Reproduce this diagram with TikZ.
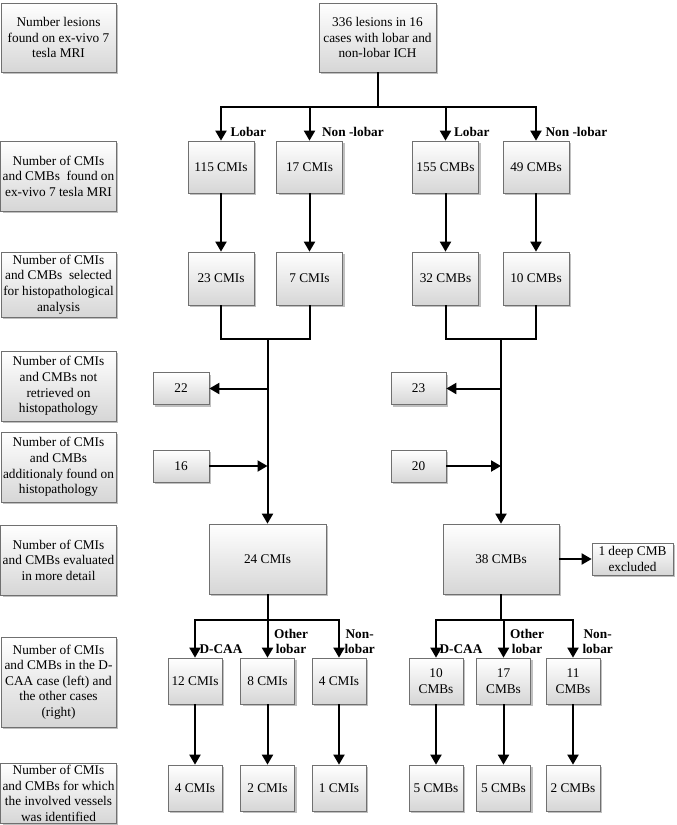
\documentclass[tikz,border=0pt]{standalone}
\usepackage{fontspec}
\setmainfont{Liberation Serif}
\usepackage{tikz}
\usetikzlibrary{arrows.meta,positioning,calc,shadows}
\definecolor{BoxEdge}{RGB}{112,112,112}
\definecolor{BoxShade}{RGB}{214,214,214}
\definecolor{ShadowGray}{RGB}{150,150,150}
\tikzset{
  cbox/.style ={rectangle, draw=BoxEdge, line width=.7pt, top color=white,
                bottom color=BoxShade, align=center, inner sep=2pt,
                drop shadow={shadow xshift=2pt, shadow yshift=-2pt, fill=ShadowGray, opacity=.6}},
  lbox/.style ={cbox, minimum width=115pt},
  arr/.style  ={-{Triangle[length=10pt,width=11pt]}, line width=2pt},
  conn/.style ={line width=2pt},
  tag/.style  ={font=\fontsize{13.3}{15.6}\selectfont\bfseries, align=center},
}
\begin{document}
\begin{tikzpicture}[x=1pt,y=-1pt,font=\fontsize{13.3}{15.6}\selectfont]
  \useasboundingbox (0,0) rectangle (677,825);

  \node[lbox,minimum height=69pt] at (58.5,37.5) (d1) {Number lesions\\found on ex-vivo 7\\tesla MRI};
  \node[lbox,minimum height=70pt] at (58.5,176) (d2) {Number of CMIs\\and CMBs\ \ found on\\ex-vivo 7 tesla MRI};
  \node[lbox,minimum height=65pt] at (58.5,284.5) (d3) {Number of CMIs\\and CMBs\ \ selected\\for histopathological\\analysis};
  \node[lbox,minimum height=70pt] at (58.5,386) (d4) {Number of CMIs\\and CMBs not\\retrieved on\\histopathology};
  \node[lbox,minimum height=70pt] at (58.5,467) (d5) {Number of CMIs\\and CMBs\\additionaly found on\\histopathology};
  \node[lbox,minimum height=70pt] at (58.5,560) (d6) {Number of CMIs\\and CMBs evaluated\\in more detail};
  \node[lbox,minimum height=90pt] at (58.5,682) (d7) {Number of CMIs\\and CMBs in the D-\\CAA case (left) and\\the other cases\\(right)};
  \node[lbox,minimum height=57pt] at (58.5,793.5) (d8) {Number of CMIs\\and CMBs for which\\the involved vessels\\was identified};

  \node[cbox,minimum width=117pt,minimum height=69pt] at (377.5,37.5) (all)
    {336 lesions in 16\\cases with lobar and\\non-lobar ICH};
  \coordinate (split) at (377.5,107);
  \draw[conn] (all.south) -- (split);

  \foreach \n/\x/\t in {cmi1/221/115 CMIs,cmi2/309.5/17 CMIs,cmb1/445.5/155 CMBs,cmb2/536/49 CMBs}{
    \node[cbox,minimum width=66pt,minimum height=52pt] (\n) at (\x,167) {\t};
    \draw[arr] (split) -| (\n.north);
  }
  \node[tag,above right=0pt and 6pt of cmi1.north] (t1) {Lobar};
  \node[tag,above right=0pt and 9pt of cmi2.north] (t2) {Non -lobar};
  \node[tag,above right=0pt and 5pt of cmb1.north] (t3) {Lobar};
  \node[tag,above right=0pt and 6pt of cmb2.north] (t4) {Non -lobar};

  \foreach \n/\x/\t in {scmi1/221/23 CMIs,scmi2/309.5/7 CMIs,scmb1/445.5/32 CMBs,scmb2/536/10 CMBs}{
    \node[cbox,minimum width=66pt,minimum height=53pt] (\n) at (\x,278.5) {\t};
  }
  \foreach \a/\b in {cmi1/scmi1,cmi2/scmi2,cmb1/scmb1,cmb2/scmb2}{\draw[arr] (\a.south) -- (\b.north);}

  \node[cbox,minimum width=117pt,minimum height=70pt] at (267.5,559) (ev1) {24 CMIs};
  \node[cbox,minimum width=116pt,minimum height=70pt] at (501,559) (ev2) {38 CMBs};
  \node[cbox,minimum width=81pt,minimum height=32pt] at (632.5,559) (excl) {1 deep CMB\\excluded};

  \node[cbox,minimum width=56pt,minimum height=32pt] at (181,388.5) (n22) {22};
  \node[cbox,minimum width=56pt,minimum height=32pt] at (181,466) (n16) {16};
  \node[cbox,minimum width=55pt,minimum height=32pt] at (418.5,388.5) (n23) {23};
  \node[cbox,minimum width=55pt,minimum height=32pt] at (418.5,466) (n20) {20};

  \coordinate (ml) at (267.5,339);
  \coordinate (mr) at (501,339);
  \draw[conn] (scmi1.south) |- (ml);
  \draw[conn] (scmi2.south) |- (ml);
  \draw[conn] (scmb1.south) |- (mr);
  \draw[conn] (scmb2.south) |- (mr);
  \draw[arr] (ml) -- (ev1.north);
  \draw[arr] (mr) -- (ev2.north);
  \draw[arr] (ml |- n22.east) -- (n22.east);
  \draw[arr] (mr |- n23.east) -- (n23.east);
  \draw[arr] (n16.east) -- (ml |- n16.east);
  \draw[arr] (n20.east) -- (mr |- n20.east);
  \draw[arr] (ev2.east) -- (excl.west);

  \foreach \n/\x/\t in {dcmi/195/12 CMIs,ocmi/267.5/8 CMIs,ncmi/339/4 CMIs,dcmb/436/10\\CMBs,ocmb/503.5/17\\CMBs,ncmb/573/11\\CMBs}{
    \node[cbox,minimum width=54pt,minimum height=46pt] (\n) at (\x,681) {\t};
  }
  \foreach \n/\x/\t in {vdcmi/195/4 CMIs,vocmi/267.5/2 CMIs,vncmi/339/1 CMIs,vdcmb/436/5 CMBs,vocmb/503.5/5 CMBs,vncmb/573/2 CMBs}{
    \node[cbox,minimum width=54pt,minimum height=46pt] (\n) at (\x,788) {\t};
  }

  \coordinate (sl) at (267.5,620);
  \coordinate (sr) at (501,620);
  \draw[conn] (ev1.south) -- (sl);
  \draw[conn] (ev2.south) -- (sr);
  \foreach \n in {dcmi,ocmi,ncmi}{\draw[arr] (sl) -| (\n.north);}
  \foreach \n in {dcmb,ocmb,ncmb}{\draw[arr] (sr) -| (\n.north);}
  \foreach \n in {dcmi,ocmi,ncmi,dcmb,ocmb,ncmb}{\draw[arr] (\n.south) -- (v\n.north);}

  \node[tag,above right=0pt and 1pt of dcmi.north] (t5) {D-CAA};
  \node[tag,above right=0pt and 3pt of ocmi.north] (t6) {Other\\lobar};
  \node[tag,above right=0pt and 2pt of ncmi.north] (t7) {Non-\\lobar};
  \node[tag,above right=0pt and 0pt of dcmb.north] (t8) {D-CAA};
  \node[tag,above right=0pt and 3pt of ocmb.north] (t9) {Other\\lobar};
  \node[tag,above right=0pt and 6pt of ncmb.north] (t10) {Non-\\lobar};
\end{tikzpicture}
\end{document}
